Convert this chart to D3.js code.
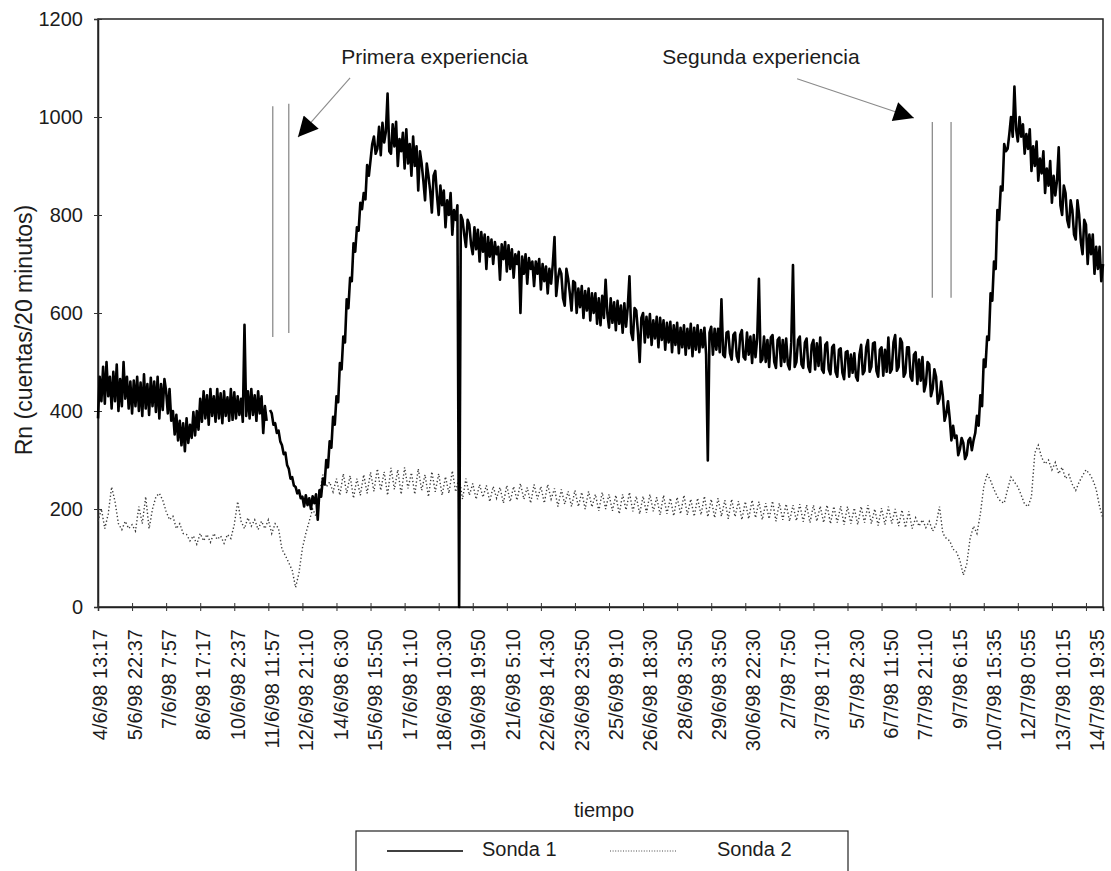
<!DOCTYPE html>
<html>
<head>
<meta charset="utf-8">
<script src="https://cdnjs.cloudflare.com/ajax/libs/d3/7.8.5/d3.min.js"></script>
<style>
    body { margin: 0; background: #fff; }
    svg text { font-family: "Liberation Sans", Arial, sans-serif; fill: #1c1c1c; }
</style>
</head>
<body>
<div id="chart"></div>
<script>
"use strict"

// readings are 20 min apart; 2950 readings on the axis
const TOTAL = 2950;
const STEP1 = 5;   // sonda 1 kept every 5 readings
const STEP2 = 10;  // sonda 2 kept every 10 readings

// Sonda 1 (cuentas/20 minutos), one row per 100 readings ; null = hole in the record
const sonda1 = [
    385, 470, 420, 490, 415, 500, 430, 470, 405, 480, 420, 495, 400, 465, 410, 500, 425, 470, 405, 460,
    395, 462, 410, 470, 400, 458, 390, 475, 405, 455, 392, 468, 410, 460, 398, 470, 385, 455, 402, 465,
    440, 395, 445, 380, 400, 352, 392, 340, 380, 330, 375, 318, 385, 335, 372, 345, 398, 350, 400, 362,
    425, 378, 440, 385, 432, 372, 445, 390, 430, 378, 445, 385, 436, 375, 440, 390, 428, 380, 445, 382,
    438, 385, 430, 392, 425, 378, 576, 390, 440, 385, 445, 392, 432, 380, 440, 395, 430, 355, 410, 380,
    null, 402, 395, 372, 375, 355, 360, 338, 330, 312, 315, 290, 282, 262, 265, 248, 245, 232, 238, 222,
    225, 205, 228, 208, 222, 200, 226, 212, 230, 178, 238, 225, 262, 250, 300, 285, 338, 325, 388, 372,
    430, 418, 498, 485, 552, 540, 628, 610, 672, 665, 742, 725, 775, 768, 825, 812, 845, 832, 902, 880,
    912, 945, 960, 925, 935, 980, 922, 988, 948, 970, 1048, 930, 925, 985, 940, 990, 900, 955, 930, 968,
    895, 975, 905, 945, 880, 960, 900, 940, 850, 930, 905, 870, 830, 905, 880, 850, 805, 880, 890, 840,
    800, 860, 820, 850, 775, 830, 800, 845, 760, 810, 790, 820, 0, 800, 790, 760, 735, 790, 780, 740,
    720, 775, 730, 770, 705, 765, 725, 760, 690, 755, 715, 750, 700, 745, 720, 735, 668, 740, 710, 745,
    685, 738, 690, 730, 672, 720, 700, 725, 600, 715, 680, 720, 660, 712, 690, 705, 655, 705, 680, 710,
    648, 700, 665, 695, 640, 690, 660, 700, 755, 635, 670, 690, 680, 630, 615, 690, 670, 640, 605, 665,
    662, 600, 650, 612, 655, 590, 645, 605, 650, 585, 640, 600, 640, 578, 630, 575, 635, 590, 668, 600,
    570, 630, 580, 622, 565, 625, 578, 615, 560, 620, 572, 612, 675, 560, 545, 610, 605, 560, 500, 590,
    600, 540, 592, 550, 598, 535, 585, 548, 592, 530, 590, 545, 585, 525, 580, 540, 582, 520, 575, 535,
    580, 518, 570, 530, 575, 515, 568, 528, 578, 512, 570, 525, 575, 520, 565, 530, 570, 515, 299, 560,
    572, 515, 568, 525, 568, 520, 628, 515, 510, 560, 562, 518, 505, 555, 560, 512, 500, 555, 565, 510,
    505, 560, 515, 552, 498, 555, 510, 548, 670, 500, 505, 552, 500, 545, 490, 550, 555, 500, 488, 545,
    550, 492, 545, 500, 548, 495, 485, 540, 698, 490, 500, 545, 552, 495, 488, 540, 548, 490, 480, 535,
    545, 485, 538, 492, 550, 485, 478, 535, 540, 485, 475, 530, 535, 480, 470, 525, 528, 478, 465, 520,
    522, 470, 515, 478, 518, 470, 462, 515, 535, 475, 482, 530, 545, 480, 490, 538, 540, 482, 470, 525,
    530, 472, 525, 480, 550, 478, 485, 540, 555, 482, 490, 548, 540, 470, 478, 530, 530, 470, 462, 515,
    520, 455, 505, 462, 510, 440, 455, 500, 495, 430, 445, 485, 470, 415, 425, 460, 430, 380, 395, 420,
    385, 340, 370, 345, 350, 310, 322, 345, 335, 302, 310, 340, 345, 320, 340, 355, 390, 370, 432, 410,
    505, 490, 552, 545, 640, 625, 705, 690, 810, 790, 858, 850, 945, 930, 935, 965, 1000, 960, 1062, 975,
    950, 1000, 960, 985, 925, 965, 935, 975, 890, 940, 900, 950, 870, 915, 885, 930, 845, 895, 860, 910,
    825, 880, 840, 870, 938, 820, 800, 860, 845, 790, 775, 830, 810, 760, 750, 830, 800, 745, 720, 790,
    780, 700, 760, 720, 760, 680, 735, 690, 735, 665, 700
];

// Sonda 2, one row per 100 readings
const sonda2 = [
    175, 200, 160, 190, 245, 215, 170, 158, 175, 160,
    168, 155, 205, 170, 225, 160, 200, 225, 232, 218,
    195, 178, 185, 160, 170, 150, 148, 135, 145, 128,
    150, 135, 148, 132, 150, 138, 145, 130, 148, 140,
    168, 215, 175, 160, 182, 165, 178, 158, 175, 160,
    178, 150, 170, 160, 118, 105, 90, 75, 40, 70,
    120, 150, 175, 200, 185, 230, 270, 245, 255, 235,
    262, 228, 272, 232, 268, 222, 262, 228, 270, 232,
    275, 236, 282, 238, 276, 228, 284, 240, 280, 230,
    285, 242, 274, 230, 282, 238, 270, 225, 276, 235,
    272, 228, 266, 232, 278, 235, 266, 220, 262, 228,
    252, 220, 250, 224, 248, 215, 246, 222, 244, 212,
    248, 215, 246, 218, 252, 220, 244, 212, 250, 220,
    246, 212, 250, 220, 242, 205, 240, 210, 236, 205,
    238, 205, 234, 200, 236, 204, 230, 196, 234, 200,
    230, 196, 228, 190, 230, 198, 234, 195, 226, 190,
    226, 192, 230, 195, 224, 188, 228, 190, 222, 186,
    224, 190, 228, 188, 220, 185, 222, 188, 226, 184,
    220, 182, 222, 185, 218, 180, 220, 184, 216, 178,
    215, 180, 218, 182, 215, 178, 212, 180, 216, 175,
    212, 178, 210, 175, 208, 176, 210, 174, 208, 172,
    208, 175, 206, 172, 208, 170, 205, 172, 206, 168,
    205, 170, 202, 168, 205, 172, 208, 170, 200, 166,
    202, 168, 205, 170, 200, 165, 198, 162, 195, 160,
    182, 165, 178, 162, 175, 155, 168, 205, 150, 140,
    135, 118, 112, 95, 65, 88, 140, 165, 150, 190,
    245, 272, 258, 240, 225, 215, 212, 240, 265, 255,
    245, 228, 210, 205, 225, 315, 330, 305, 292, 300,
    280, 295, 272, 285, 262, 270, 250, 238, 255, 268,
    280, 272, 260, 240, 205, 180
];

// one label every 100 readings
const tickLabels = [
    "4/6/98 13:17", "5/6/98 22:37", "7/6/98 7:57", "8/6/98 17:17", "10/6/98 2:37",
    "11/6/98 11:57", "12/6/98 21:10", "14/6/98 6:30", "15/6/98 15:50", "17/6/98 1:10",
    "18/6/98 10:30", "19/6/98 19:50", "21/6/98 5:10", "22/6/98 14:30", "23/6/98 23:50",
    "25/6/98 9:10", "26/6/98 18:30", "28/6/98 3:50", "29/6/98 3:50", "30/6/98 22:30",
    "2/7/98 7:50", "3/7/98 17:10", "5/7/98 2:30", "6/7/98 11:50", "7/7/98 21:10",
    "9/7/98 6:15", "10/7/98 15:35", "12/7/98 0:55", "13/7/98 10:15", "14/7/98 19:35"
];
const yTicks = [0, 200, 400, 600, 800, 1000, 1200];

// experiences: name, label anchor [idx, value], arrow [from, to], event bars [idx, top, bottom]
const expNames = ["Primera experiencia", "Segunda experiencia"];
const expLabelAt = [[988, 1108], [1946, 1108]];
const expArrows = [[[740, 1080], [587, 959]], [[2052, 1078], [2395, 998]]];
const expBars = [
    [[513, 1022, 551], [560, 1027, 559]],
    [[2449, 990, 631], [2504, 990, 631]]
];

const seriesNames = ["Sonda 1", "Sonda 2"];

function drawChart(){
    let width = 1111, height = 871;
    let left = 98, right = 1103, top = 19, bottom = 607;

    let svg = d3.select("#chart").append("svg")
        .attr("width", width)
        .attr("height", height)

    let x = d3.scaleLinear().domain([0, TOTAL]).range([left, right]);
    let y = d3.scaleLinear().domain([0, 1200]).range([bottom, top]);
    // the printed labels drift a little right of the tick marks
    let xLabel = d3.scaleLinear().domain([0, tickLabels.length - 1]).range([100, 1097]);

    // frame
    svg.append("rect")
        .attr("x", left).attr("y", top)
        .attr("width", right - left).attr("height", bottom - top)
        .style("fill", "none")
        .style("stroke", "#222")
        .style("stroke-width", 1.5)

    // y axis
    let yAxis = d3.axisLeft(y).tickValues(yTicks).tickSize(4).tickPadding(11).tickFormat(d3.format("d"));
    let gy = svg.append("g").attr("transform", "translate(" + left + ",0)").call(yAxis);
    gy.select(".domain").style("stroke", "#222").style("stroke-width", 1.5);
    gy.selectAll(".tick line").attr("x1", -4).attr("x2", 4).style("stroke", "#333");
    gy.selectAll(".tick text").style("font-size", "20px").style("font-family", "Liberation Sans, Arial, sans-serif").style("fill", "#1c1c1c");

    // x axis, crossing ticks every 100 readings
    let xTicks = d3.range(0, TOTAL, 100);
    let xAxis = d3.axisBottom(x).tickValues(xTicks).tickSize(4).tickFormat("");
    let gx = svg.append("g").attr("transform", "translate(0," + bottom + ")").call(xAxis);
    gx.select(".domain").style("stroke", "#222").style("stroke-width", 1.5);
    gx.selectAll(".tick line").attr("y1", -4).attr("y2", 4).style("stroke", "#333");

    svg.append("g").selectAll("text")
        .data(tickLabels)
        .enter().append("text")
        .attr("transform", (d, i) => "translate(" + xLabel(i) + "," + (bottom + 22) + ") rotate(-90)")
        .attr("text-anchor", "end")
        .attr("dy", "0.36em")
        .style("font-size", "20px")
        .text(d => d)

    // axis titles
    svg.append("text")
        .attr("transform", "translate(32,330) rotate(-90)")
        .attr("text-anchor", "middle")
        .style("font-size", "23px")
        .text("Rn (cuentas/20 minutos)")

    svg.append("text")
        .attr("x", 604).attr("y", 817)
        .attr("text-anchor", "middle")
        .style("font-size", "20px")
        .text("tiempo")

    // series
    let lineFor = step => d3.line()
        .defined(d => d != null)
        .x((d, i) => x(i * step))
        .y(d => y(d));

    svg.append("path")
        .datum(sonda2)
        .attr("d", lineFor(STEP2))
        .style("fill", "none")
        .style("stroke", "#3a3a3a")
        .style("stroke-width", 1.4)
        .style("stroke-dasharray", "1.3,2.3")

    svg.append("path")
        .datum(sonda1)
        .attr("d", lineFor(STEP1))
        .style("fill", "none")
        .style("stroke", "#000")
        .style("stroke-width", 2.6)
        .style("stroke-linejoin", "round")

    // experiences: event bars, arrows and labels
    svg.append("defs").append("marker")
        .attr("id", "head")
        .attr("viewBox", "0 0 10 10")
        .attr("refX", 10).attr("refY", 5)
        .attr("markerUnits", "userSpaceOnUse")
        .attr("markerWidth", 26).attr("markerHeight", 20)
        .attr("orient", "auto")
        .append("path")
        .attr("d", "M0,0 L10,5 L0,10 z")
        .style("fill", "#000")

    for(let e = 0; e < expNames.length; e++){
        expBars[e].forEach(b => {
            svg.append("line")
                .attr("x1", x(b[0])).attr("x2", x(b[0]))
                .attr("y1", y(b[1])).attr("y2", y(b[2]))
                .style("stroke", "#8c8c8c")
                .style("stroke-width", 1.3)
        })
        let a = expArrows[e];
        svg.append("line")
            .attr("x1", x(a[0][0])).attr("y1", y(a[0][1]))
            .attr("x2", x(a[1][0])).attr("y2", y(a[1][1]))
            .style("stroke", "#8a8a8a")
            .style("stroke-width", 1.1)
            .attr("marker-end", "url(#head)")

        svg.append("text")
            .attr("x", x(expLabelAt[e][0]))
            .attr("y", y(expLabelAt[e][1]))
            .attr("text-anchor", "middle")
            .style("font-size", "21px")
            .text(expNames[e])
    }

    // legend box, runs off the bottom of the page
    let legend = svg.append("g");
    legend.append("rect")
        .attr("x", 356).attr("y", 831)
        .attr("width", 492).attr("height", 70)
        .style("fill", "#fff")
        .style("stroke", "#222")
        .style("stroke-width", 1.2)

    let legendLine = [[387, 463, 482], [610, 677, 717]];
    seriesNames.forEach((name, i) => {
        legend.append("line")
            .attr("x1", legendLine[i][0]).attr("x2", legendLine[i][1])
            .attr("y1", 851).attr("y2", 851)
            .style("stroke", i == 0 ? "#000" : "#4a4a4a")
            .style("stroke-width", i == 0 ? 1.7 : 1.2)
            .style("stroke-dasharray", i == 0 ? null : "1,1.6")
        legend.append("text")
            .attr("x", legendLine[i][2]).attr("y", 856)
            .style("font-size", "20px")
            .text(name)
    })
}

drawChart();
</script>
</body>
</html>
